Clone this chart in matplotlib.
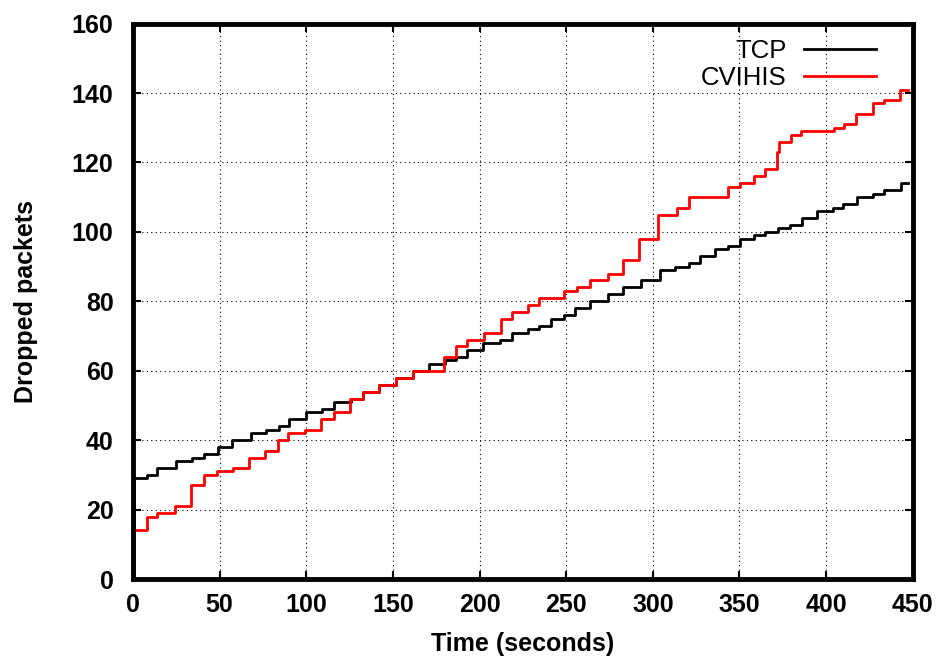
import matplotlib
matplotlib.use("Agg")
import matplotlib.pyplot as plt

# step data (time in s, dropped packets)
tcp_t = [0, 0.5, 8, 14, 25, 34, 41, 49, 57, 68, 77, 84, 90, 100, 109, 116,
         126, 133, 142, 152, 161.5, 171, 180, 186.5, 193, 202, 212, 219, 228,
         234.5, 241, 249, 255, 264, 274, 283, 293, 304, 313, 321, 327.5, 336,
         343.5, 350.5, 358.5, 364.5, 372, 379, 386, 395, 404, 410, 418, 427,
         433.5, 443, 447]
tcp_v = [0, 29, 30, 32, 34, 35, 36, 38, 40, 42, 43, 44, 46, 48, 49, 51,
         52, 54, 56, 58, 60, 62, 63, 64, 66, 68, 69, 71, 72,
         73, 75, 76, 78, 80, 82, 84, 86, 89, 90, 91, 93, 95,
         96, 98, 99, 100, 101, 102, 104, 106, 107, 108, 110, 111,
         112, 114, 114]

cvihis_t = [0, 0.5, 8, 14, 24, 33.5, 41, 48.5, 57.5, 67, 76, 83.5, 89.5, 99.5,
            108.5, 116, 125, 132.5, 142, 152, 161.5, 179.5, 186.5, 193, 202.5,
            212.5, 218.5, 228, 234.5, 249, 256, 264, 274, 283, 292, 303, 314,
            321, 343.5, 350.5, 358.5, 364.5, 371.5, 373, 379.5, 385.5, 404.5,
            410.5, 417, 427, 433.5, 442.5, 447]
cvihis_v = [0, 14, 18, 19, 21, 27, 30, 31, 32, 35, 37, 40, 42, 43,
            46, 48, 52, 54, 56, 58, 60, 64, 67, 69, 71,
            75, 77, 79, 81, 83, 84, 86, 88, 92, 98, 105, 107,
            110, 113, 114, 116, 118, 123, 126, 128, 129, 130,
            131, 134, 137, 138, 141, 141]

xticks = list(range(0, 451, 50))
yticks = list(range(0, 161, 20))

plt.rcParams['font.family'] = ['Liberation Sans', 'DejaVu Sans']

fig = plt.figure(figsize=(9.4, 6.6), dpi=100)
ax = fig.add_axes([0.1415, 0.1227, 0.8295, 0.8415])

ax.step(tcp_t, tcp_v, where='post', color='black', lw=2, label='TCP')
ax.step(cvihis_t, cvihis_v, where='post', color='red', lw=2, label='CVIHIS')

ax.set_xlim(0, 450)
ax.set_ylim(0, 160)
ax.set_xticks(xticks)
ax.set_yticks(yticks)
ax.grid(True, color='black', linestyle=(0, (1, 3)), linewidth=0.8)

for s in ax.spines.values():
    s.set_linewidth(3.5)
ax.tick_params(direction='in', length=6, width=1.5, top=True, right=True,
               labelsize=18)
ax.tick_params(axis='x', pad=10)
ax.tick_params(axis='y', pad=14)
for lab in ax.get_xticklabels() + ax.get_yticklabels():
    lab.set_fontweight('bold')

ax.set_xlabel('Time (seconds)', fontsize=18, fontweight='bold', labelpad=11)
ax.set_ylabel('Dropped packets', fontsize=18, fontweight='bold', labelpad=24)

# legend text is plain weight in the original
ax.legend(loc='upper right', bbox_to_anchor=(0.973, 1.0), frameon=False,
          markerfirst=False, prop={'size': 18.5, 'weight': 'normal'},
          handlelength=2.8, handletextpad=0.7, labelspacing=0.1,
          borderaxespad=0.2)

fig.savefig('out.png', dpi=100)
